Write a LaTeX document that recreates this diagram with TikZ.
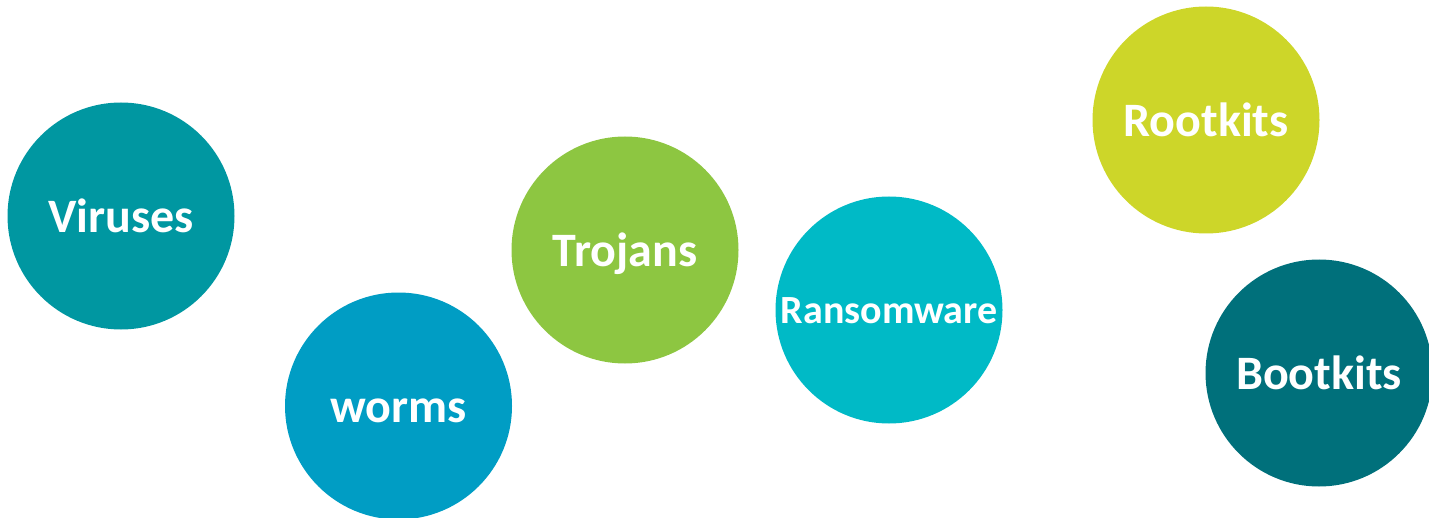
\documentclass[tikz,border=0pt]{standalone}
\usepackage{fontspec}
\setmainfont{Carlito}
\definecolor{virusteal}{HTML}{0097A1}
\definecolor{wormblue}{HTML}{009DC4}
\definecolor{trojangreen}{HTML}{8DC641}
\definecolor{ransomcyan}{HTML}{00BAC6}
\definecolor{rootlime}{HTML}{CDD629}
\definecolor{bootteal}{HTML}{00707B}
\tikzset{
    blob/.style={circle, minimum size=113.5pt, inner sep=0pt, text=white,
        text height=16.5pt, text depth=0pt,
        font=\bfseries\fontsize{24}{29}\selectfont}
}
\begin{document}
\begin{tikzpicture}[x=0.5pt, y=-0.5pt]
                \useasboundingbox (0,0) rectangle (1429,518);
                \clip (0,0) rectangle (1429,518);

                \node[blob, fill=virusteal]   (viruses) at (121,216)  {Viruses};
                \node[blob, fill=wormblue]    (worms)   at (398.5,406) {worms};
                \node[blob, fill=trojangreen] (trojans) at (625,250)  {Trojans};
                \node[blob, fill=ransomcyan, text height=13.5pt,
                    font=\bfseries\fontsize{20}{24}\selectfont]
                                              (ransom)  at (889,310)  {Ransomware};
                \node[blob, fill=rootlime]    (rootkits) at (1206,120) {Rootkits};
                \node[blob, fill=bootteal]    (bootkits) at (1319,373) {Bootkits};
            \end{tikzpicture}
\end{document}
